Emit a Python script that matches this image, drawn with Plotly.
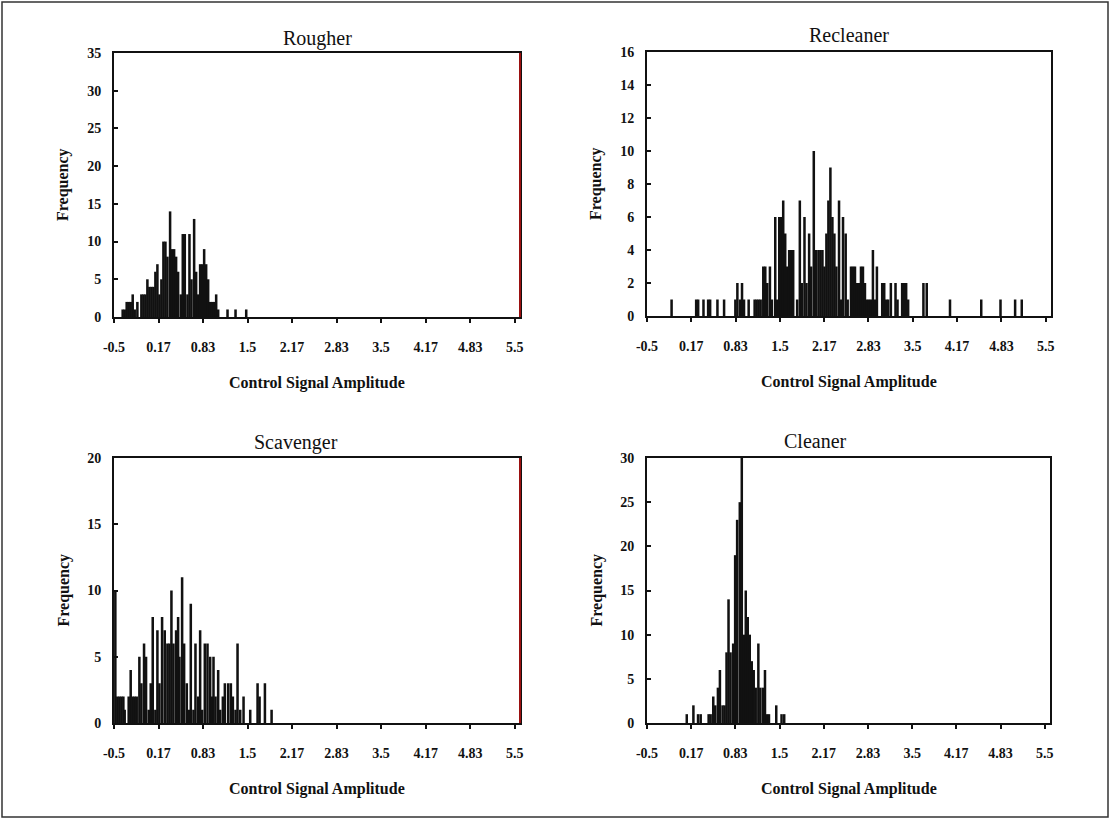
import plotly.graph_objects as go

W, H = 1111, 819
FONT = "Liberation Serif, Times New Roman, serif"
INK = "#111111"

# ---- shared x axis ticks ----
tick_vals = [-0.5, 0.1667, 0.8333, 1.5, 2.1667, 2.8333, 3.5, 4.1667, 4.8333, 5.5]
tick_text = ["-0.5", "0.17", "0.83", "1.5", "2.17", "2.83", "3.5", "4.17", "4.83", "5.5"]
x_label = "Control Signal Amplitude"
y_label = "Frequency"

# ---- Rougher ----
rougher_x = [-0.37, -0.34, -0.31, -0.28, -0.25, -0.22, -0.19, -0.15, -0.09, -0.06, -0.03,
             0.00, 0.03, 0.06, 0.09, 0.12, 0.15, 0.18, 0.21, 0.24, 0.27, 0.30, 0.34, 0.37,
             0.40, 0.43, 0.46, 0.50, 0.53, 0.56, 0.60, 0.63, 0.66, 0.70, 0.73, 0.76, 0.79,
             0.82, 0.85, 0.88, 0.91, 0.94, 0.97, 1.00, 1.03, 1.06, 1.20, 1.32, 1.48]
rougher_n = [1, 1, 2, 2, 2, 3, 1, 2, 3, 3, 3,
             5, 4, 4, 4, 6, 7, 3, 5, 10, 10, 8, 14, 9,
             9, 8, 6, 3, 11, 11, 3, 11, 5, 13, 6, 3, 7,
             7, 9, 7, 5, 2, 2, 2, 3, 1, 1, 1, 1]

# ---- Recleaner ----
recleaner_x = [-0.13, 0.24, 0.27, 0.35, 0.42, 0.45, 0.56, 0.66, 0.83, 0.86, 0.90, 0.93,
               0.96, 1.03, 1.12, 1.15, 1.18, 1.21, 1.25, 1.28, 1.31, 1.35, 1.38, 1.43,
               1.46, 1.49, 1.52, 1.55, 1.58, 1.61, 1.64, 1.67, 1.70, 1.76, 1.80, 1.83,
               1.87, 1.90, 1.94, 1.97, 2.01, 2.04, 2.08, 2.11, 2.14, 2.17, 2.20, 2.23,
               2.26, 2.29, 2.32, 2.35, 2.39, 2.42, 2.45, 2.49, 2.52, 2.57, 2.60, 2.63,
               2.66, 2.69, 2.72, 2.75, 2.78, 2.81, 2.84, 2.87, 2.90, 2.93, 2.96, 3.04,
               3.07, 3.10, 3.13, 3.17, 3.24, 3.27, 3.34, 3.37, 3.40, 3.43, 3.66, 3.71,
               4.06, 4.53, 4.82, 5.04, 5.14]
recleaner_n = [1, 1, 1, 1, 1, 1, 1, 1, 1, 2, 1, 2,
               1, 1, 1, 1, 1, 1, 3, 3, 2, 3, 1, 6,
               1, 6, 6, 7, 5, 3, 4, 4, 4, 1, 7, 2,
               6, 2, 5, 3, 10, 4, 4, 4, 4, 3, 5, 7,
               9, 6, 5, 3, 7, 1, 6, 5, 1, 3, 3, 3,
               2, 2, 3, 3, 2, 1, 1, 1, 4, 1, 3, 2,
               2, 1, 1, 2, 2, 1, 2, 2, 2, 1, 2, 2,
               1, 1, 1, 1, 1]

# ---- Scavenger ----
scavenger_x = [-0.48, -0.45, -0.42, -0.39, -0.36, -0.34, -0.28, -0.25, -0.22, -0.19, -0.16,
               -0.12, -0.09, -0.05, -0.02, 0.02, 0.05, 0.08, 0.12, 0.15, 0.18, 0.22, 0.26,
               0.30, 0.33, 0.36, 0.39, 0.43, 0.46, 0.48, 0.52, 0.55, 0.59, 0.62, 0.65, 0.69,
               0.72, 0.76, 0.79, 0.82, 0.86, 0.90, 0.94, 0.97, 0.99, 1.02, 1.06, 1.09, 1.13,
               1.16, 1.21, 1.25, 1.28, 1.32, 1.35, 1.39, 1.44, 1.54, 1.65, 1.68, 1.76, 1.86]
scavenger_n = [10, 2, 2, 2, 2, 1, 2, 4, 2, 2, 2,
               5, 3, 6, 5, 1, 3, 8, 1, 7, 3, 8, 7,
               6, 6, 10, 6, 7, 8, 5, 11, 6, 3, 1, 9, 1,
               6, 2, 7, 1, 6, 6, 5, 2, 5, 2, 4, 1, 2,
               3, 3, 3, 2, 1, 6, 1, 2, 1, 3, 2, 3, 1]

# ---- Cleaner ----
cleaner_x = [0.10, 0.20, 0.27, 0.31, 0.43, 0.46, 0.50, 0.53, 0.57, 0.60, 0.64, 0.67, 0.70,
             0.73, 0.76, 0.80, 0.83, 0.86, 0.90, 0.93, 0.96, 0.99, 1.02, 1.05, 1.08, 1.11,
             1.14, 1.18, 1.21, 1.25, 1.28, 1.31, 1.34, 1.45, 1.53, 1.57]
cleaner_n = [1, 2, 1, 1, 1, 1, 3, 2, 4, 6, 2, 2, 8,
             14, 8, 9, 19, 23, 25, 30, 10, 15, 12, 10, 7, 6,
             4, 9, 4, 4, 6, 1, 1, 2, 1, 1]

panels = [
    dict(title="Rougher", x=rougher_x, n=rougher_n, ymax=35, dtick=5,
         px=(114, 520), py=(53, 317), tpos=(317, 38), red=True),
    dict(title="Recleaner", x=recleaner_x, n=recleaner_n, ymax=16, dtick=2,
         px=(647, 1051), py=(52, 316), tpos=(849, 35), red=False),
    dict(title="Scavenger", x=scavenger_x, n=scavenger_n, ymax=20, dtick=5,
         px=(114, 520), py=(458, 723), tpos=(296, 442), red=True),
    dict(title="Cleaner", x=cleaner_x, n=cleaner_n, ymax=30, dtick=5,
         px=(647, 1050), py=(458, 723), tpos=(815, 441), red=False),
]


def fx(p):
    return p / W


def fy(p):
    return 1 - p / H


fig = go.Figure()
layout = dict(
    width=W, height=H,
    margin=dict(l=0, r=0, t=0, b=0),
    paper_bgcolor="white", plot_bgcolor="white",
    showlegend=False, template="none",
    annotations=[], shapes=[],
)

bin_width = 0.038
for i, p in enumerate(panels, start=1):
    xa = "x" if i == 1 else f"x{i}"
    ya = "y" if i == 1 else f"y{i}"
    fig.add_trace(go.Bar(
        x=p["x"], y=p["n"], width=bin_width,
        marker=dict(color=INK, line=dict(width=0)),
        xaxis=xa, yaxis=ya, hoverinfo="x+y",
    ))
    tickfont = dict(family=FONT, size=14, color=INK, weight="bold")
    layout[f"xaxis{'' if i == 1 else i}"] = dict(
        domain=[fx(p["px"][0]), fx(p["px"][1])], anchor=ya,
        range=[-0.5, 5.58], tickmode="array", tickvals=tick_vals, ticktext=tick_text,
        ticks="outside", ticklen=4, tickwidth=1.5, tickcolor=INK,
        showline=True, mirror=True, linewidth=2, linecolor=INK,
        showgrid=False, zeroline=False, automargin=False,
        tickfont=tickfont, ticklabelstandoff=12,
    )
    layout[f"yaxis{'' if i == 1 else i}"] = dict(
        domain=[fy(p["py"][1]), fy(p["py"][0])], anchor=xa,
        range=[0, p["ymax"]], dtick=p["dtick"], tick0=0,
        ticks="inside", ticklen=4, tickwidth=1.5, tickcolor=INK,
        showline=True, mirror=True, linewidth=2, linecolor=INK,
        showgrid=False, zeroline=False, automargin=False,
        tickfont=tickfont, ticklabelstandoff=8,
    )
    cx = (p["px"][0] + p["px"][1]) / 2
    cy = (p["py"][0] + p["py"][1]) / 2
    # subplot title
    layout["annotations"].append(dict(
        text=p["title"], x=fx(p["tpos"][0]), y=fy(p["tpos"][1]),
        xref="paper", yref="paper", showarrow=False,
        xanchor="center", yanchor="middle",
        font=dict(family=FONT, size=20, color=INK),
    ))
    # x axis label
    layout["annotations"].append(dict(
        text=x_label, x=fx(cx), y=fy(p["py"][1] + 66),
        xref="paper", yref="paper", showarrow=False,
        xanchor="center", yanchor="middle",
        font=dict(family=FONT, size=16, color=INK, weight="bold"),
    ))
    # y axis label
    layout["annotations"].append(dict(
        text=y_label, x=fx(p["px"][0] - 51), y=fy(cy),
        xref="paper", yref="paper", showarrow=False, textangle=-90,
        xanchor="center", yanchor="middle",
        font=dict(family=FONT, size=16, color=INK, weight="bold"),
    ))
    if p["red"]:
        layout["shapes"].append(dict(
            type="line", xref=f"{xa} domain", yref=f"{ya} domain",
            x0=1, x1=1, y0=0, y1=1, line=dict(color="#9b1010", width=2),
        ))

# outer frame
layout["shapes"].append(dict(
    type="rect", xref="paper", yref="paper",
    x0=fx(2), x1=fx(1108), y0=fy(817), y1=fy(2),
    line=dict(color="#333333", width=1.5), fillcolor="rgba(0,0,0,0)",
))

fig.update_layout(**layout)
fig.write_html(
    "out.html",
    config={"displayModeBar": False},
    post_script="document.body.style.margin='0';document.body.style.overflow='hidden';",
)
